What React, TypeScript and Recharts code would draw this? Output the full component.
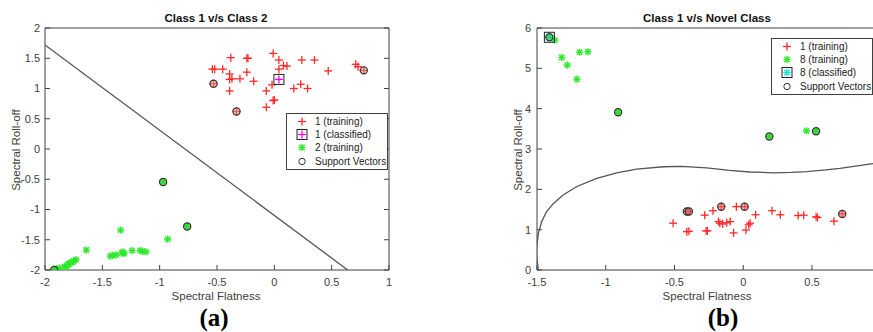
import React from "react"
import { Legend, Scatter, ScatterChart, XAxis, YAxis } from "recharts"

type Pt = { x: number; y: number }

// ---- (a) Class 1 v/s Class 2 ----
const class1TrainA: Pt[] = [
  { x: -0.54, y: 1.32 }, { x: -0.52, y: 1.32 }, { x: -0.45, y: 1.32 }, { x: -0.38, y: 1.51 },
  { x: -0.39, y: 1.24 }, { x: -0.39, y: 1.15 }, { x: -0.37, y: 1.16 }, { x: -0.3, y: 1.16 },
  { x: -0.39, y: 0.96 }, { x: -0.24, y: 1.5 }, { x: -0.23, y: 1.5 }, { x: -0.24, y: 1.27 },
  { x: -0.18, y: 1.12 }, { x: -0.01, y: 1.58 }, { x: 0.04, y: 1.47 }, { x: 0.04, y: 1.32 },
  { x: 0.08, y: 1.38 }, { x: 0.11, y: 1.37 }, { x: -0.02, y: 1.06 }, { x: -0.07, y: 0.96 },
  { x: 0.0, y: 0.81 }, { x: -0.01, y: 0.8 }, { x: -0.07, y: 0.69 }, { x: 0.24, y: 1.47 },
  { x: 0.35, y: 1.47 }, { x: 0.47, y: 1.29 }, { x: 0.71, y: 1.4 }, { x: 0.73, y: 1.36 },
  { x: 0.23, y: 1.07 }, { x: 0.17, y: 1.0 }, { x: 0.29, y: 1.0 }, { x: 0.78, y: 1.3 },
  { x: -0.53, y: 1.08 }, { x: -0.33, y: 0.62 },
]
const class1ClassifiedA: Pt[] = [{ x: 0.04, y: 1.15 }]
const class2TrainA: Pt[] = [
  { x: -0.97, y: -0.545 }, { x: -0.76, y: -1.28 }, { x: -1.92, y: -2.0 }, { x: -1.34, y: -1.34 },
  { x: -0.93, y: -1.49 }, { x: -1.64, y: -1.67 }, { x: -1.43, y: -1.77 }, { x: -1.41, y: -1.76 },
  { x: -1.38, y: -1.75 }, { x: -1.33, y: -1.72 }, { x: -1.32, y: -1.7 }, { x: -1.31, y: -1.73 },
  { x: -1.24, y: -1.68 }, { x: -1.17, y: -1.68 }, { x: -1.15, y: -1.69 }, { x: -1.12, y: -1.7 },
  { x: -1.9, y: -1.98 }, { x: -1.87, y: -1.97 }, { x: -1.83, y: -1.94 }, { x: -1.8, y: -1.91 },
  { x: -1.78, y: -1.88 }, { x: -1.76, y: -1.87 }, { x: -1.75, y: -1.85 }, { x: -1.73, y: -1.83 },
  { x: -1.81, y: -1.95 }, { x: -1.79, y: -1.9 },
]
const svRedA: Pt[] = [{ x: 0.78, y: 1.3 }, { x: -0.53, y: 1.08 }, { x: -0.33, y: 0.62 }]
const svGreenA: Pt[] = [{ x: -0.97, y: -0.545 }, { x: -0.76, y: -1.28 }, { x: -1.92, y: -2.0 }]
const boundaryA: Pt[] = [{ x: -2, y: 1.72 }, { x: 0.64, y: -2 }]
const xTicksA = [-2, -1.5, -1, -0.5, 0, 0.5, 1]
const yTicksA = [-2, -1.5, -1, -0.5, 0, 0.5, 1, 1.5, 2]

// ---- (b) Class 1 v/s Novel Class ----
const class1TrainB: Pt[] = [
  { x: -0.41, y: 1.45 }, { x: -0.395, y: 1.45 }, { x: -0.28, y: 1.36 }, { x: -0.22, y: 1.47 },
  { x: -0.16, y: 1.57 }, { x: -0.05, y: 1.57 }, { x: 0.01, y: 1.57 }, { x: 0.09, y: 1.37 },
  { x: 0.21, y: 1.47 }, { x: 0.27, y: 1.37 }, { x: 0.4, y: 1.35 }, { x: 0.44, y: 1.36 },
  { x: 0.54, y: 1.3 }, { x: 0.53, y: 1.32 }, { x: 0.66, y: 1.21 }, { x: 0.72, y: 1.39 },
  { x: -0.51, y: 1.16 }, { x: -0.41, y: 0.95 }, { x: -0.395, y: 0.96 }, { x: -0.26, y: 0.97 },
  { x: -0.27, y: 0.97 }, { x: -0.18, y: 1.2 }, { x: -0.17, y: 1.16 }, { x: -0.15, y: 1.14 },
  { x: -0.12, y: 1.17 }, { x: -0.095, y: 1.2 }, { x: -0.07, y: 0.92 }, { x: 0.02, y: 0.99 },
  { x: 0.05, y: 1.16 }, { x: 0.04, y: 1.12 },
]
const class8TrainB: Pt[] = [
  { x: -1.41, y: 5.77 }, { x: -1.37, y: 5.7 }, { x: -1.32, y: 5.27 }, { x: -1.28, y: 5.08 },
  { x: -1.21, y: 4.73 }, { x: -1.19, y: 5.4 }, { x: -1.13, y: 5.41 }, { x: -0.91, y: 3.91 },
  { x: 0.19, y: 3.31 }, { x: 0.46, y: 3.45 }, { x: 0.53, y: 3.44 },
]
const class8ClassifiedB: Pt[] = [{ x: -1.41, y: 5.77 }]
const svRedB: Pt[] = [
  { x: -0.41, y: 1.45 }, { x: -0.395, y: 1.45 }, { x: -0.16, y: 1.57 }, { x: 0.01, y: 1.57 }, { x: 0.72, y: 1.39 },
]
const svGreenB: Pt[] = [{ x: -1.41, y: 5.77 }, { x: -0.91, y: 3.91 }, { x: 0.19, y: 3.31 }, { x: 0.53, y: 3.44 }]
const boundaryB: Pt[] = [
  { x: -1.49, y: 0 }, { x: -1.502, y: 0.33 }, { x: -1.502, y: 0.58 }, { x: -1.49, y: 0.91 },
  { x: -1.466, y: 1.2 }, { x: -1.43, y: 1.45 }, { x: -1.38, y: 1.65 }, { x: -1.31, y: 1.86 },
  { x: -1.21, y: 2.07 }, { x: -1.066, y: 2.27 }, { x: -0.92, y: 2.41 }, { x: -0.775, y: 2.5 },
  { x: -0.58, y: 2.56 }, { x: -0.45, y: 2.57 }, { x: -0.266, y: 2.53 }, { x: -0.1, y: 2.47 },
  { x: 0.05, y: 2.43 }, { x: 0.219, y: 2.41 }, { x: 0.35, y: 2.42 }, { x: 0.461, y: 2.44 },
  { x: 0.6, y: 2.48 }, { x: 0.704, y: 2.52 }, { x: 0.83, y: 2.58 }, { x: 0.944, y: 2.64 },
]
const xTicksB = [-1.5, -1, -0.5, 0, 0.5]
const yTicksB = [0, 1, 2, 3, 4, 5, 6]

const RED = "#ff2a2a"
const GREEN = "#2ee82e"
const AXIS = "#404040"
const FONT = '"Liberation Sans", Arial, sans-serif'

// marker shapes
const plus = (color: string, s = 4) => (p: any) => (
  <g stroke={color} strokeWidth={1.3}>
    <line x1={p.cx - s} y1={p.cy} x2={p.cx + s} y2={p.cy} />
    <line x1={p.cx} y1={p.cy - s} x2={p.cx} y2={p.cy + s} />
  </g>
)
const star = (color: string, s = 3.6) => (p: any) => (
  <g stroke={color} strokeWidth={1.4}>
    <line x1={p.cx - s} y1={p.cy} x2={p.cx + s} y2={p.cy} />
    <line x1={p.cx} y1={p.cy - s} x2={p.cx} y2={p.cy + s} />
    <line x1={p.cx - s * 0.75} y1={p.cy - s * 0.75} x2={p.cx + s * 0.75} y2={p.cy + s * 0.75} />
    <line x1={p.cx - s * 0.75} y1={p.cy + s * 0.75} x2={p.cx + s * 0.75} y2={p.cy - s * 0.75} />
  </g>
)
const ring = (fill: string) => (p: any) => (
  <circle cx={p.cx} cy={p.cy} r={3.6} fill={fill} fillOpacity={0.55} stroke="#333" strokeWidth={1.2} />
)
const boxed = (inner: (p: any) => React.ReactElement) => (p: any) => (
  <g>
    <rect x={p.cx - 5} y={p.cy - 5} width={10} height={10} fill="none" stroke="#222" strokeWidth={1} />
    {inner(p)}
  </g>
)
const noShape = () => <g />

const tickStyle = { fill: AXIS, fontSize: 11, fontFamily: FONT }
const blank = () => ""

type Row = { label: string; marker: (p: any) => React.ReactElement }

const LegendBox = ({ rows, left, top }: { rows: Row[]; left: number; top: number }) => (
  <div
    style={{
      position: "absolute",
      left,
      top,
      width: 100,
      border: `1px solid ${AXIS}`,
      background: "#fff",
      padding: "1px 0",
      fontFamily: FONT,
      fontSize: 10,
      color: "#222",
    }}
  >
    {rows.map((r) => (
      <div key={r.label} style={{ display: "flex", alignItems: "center", height: 13.2 }}>
        <svg width={28} height={13} style={{ flex: "none" }}>
          {r.marker({ cx: 15, cy: 6.5 })}
        </svg>
        <span style={{ whiteSpace: "nowrap" }}>{r.label}</span>
      </div>
    ))}
  </div>
)

const legendRowsA: Row[] = [
  { label: "1 (training)", marker: plus(RED) },
  { label: "1 (classified)", marker: boxed(plus("#ff00ff")) },
  { label: "2 (training)", marker: star(GREEN) },
  { label: "Support Vectors", marker: (p) => <circle cx={p.cx} cy={p.cy} r={3.2} fill="none" stroke="#333" /> },
]
const legendRowsB: Row[] = [
  { label: "1 (training)", marker: plus(RED) },
  { label: "8 (training)", marker: star(GREEN) },
  { label: "8 (classified)", marker: boxed(star("#22e0e0")) },
  { label: "Support Vectors", marker: (p) => <circle cx={p.cx} cy={p.cy} r={3.2} fill="none" stroke="#333" /> },
]

const Text = ({ children, cx, cy, size = 11.5, bold = false, rotate = false, color = AXIS, serif = false }: any) => (
  <div
    style={{
      position: "absolute",
      left: cx - 100,
      top: cy - 10,
      width: 200,
      height: 20,
      lineHeight: "20px",
      textAlign: "center",
      fontSize: size,
      fontWeight: bold ? 700 : 400,
      color,
      fontFamily: serif ? '"Liberation Serif", "Times New Roman", serif' : FONT,
      transform: rotate ? "rotate(-90deg)" : undefined,
      whiteSpace: "nowrap",
    }}
  >
    {children}
  </div>
)

// axes with inward ticks on all four sides (box on)
const axesFor = (xDomain: number[], yDomain: number[], xTicks: number[], yTicks: number[], tm: number, rightAxis: boolean) => [
  <XAxis
    key="xb"
    type="number"
    dataKey="x"
    domain={xDomain}
    ticks={xTicks}
    interval={0}
    allowDataOverflow
    height={1}
    tickSize={-5}
    tickMargin={13}
    stroke={AXIS}
    tick={tickStyle}
  />,
  <XAxis
    key="xt"
    xAxisId="top"
    orientation="top"
    type="number"
    domain={xDomain}
    ticks={xTicks}
    interval={0}
    allowDataOverflow
    height={1}
    tickSize={-5}
    stroke={AXIS}
    tickFormatter={blank}
  />,
  <YAxis
    key="yl"
    type="number"
    dataKey="y"
    domain={yDomain}
    ticks={yTicks}
    interval={0}
    allowDataOverflow
    width={1}
    tickSize={-5}
    tickMargin={tm}
    stroke={AXIS}
    tick={tickStyle}
  />,
  rightAxis ? (
    <YAxis
      key="yr"
      yAxisId="right"
      orientation="right"
      type="number"
      domain={yDomain}
      ticks={yTicks}
      interval={0}
      allowDataOverflow
      width={1}
      tickSize={-5}
      stroke={AXIS}
      tickFormatter={blank}
    />
  ) : null,
]

export default function App() {
  return (
    <div
      style={{
        position: "absolute",
        left: 0,
        top: 0,
        width: 873,
        height: 332,
        background: "#fff",
        overflow: "hidden",
      }}
    >
      {/* (a) */}
      <div style={{ position: "absolute", left: 0, top: 0 }}>
        <ScatterChart width={440} height={332} margin={{ top: 27, right: 50, bottom: 61, left: 44 }}>
          {axesFor([-2, 1], [-2, 2], xTicksA, yTicksA, 10, true)}
          <Scatter data={boundaryA} shape={noShape} line={{ stroke: "#555", strokeWidth: 1.3 }} isAnimationActive={false} />
          <Scatter data={class1TrainA} shape={plus(RED)} isAnimationActive={false} />
          <Scatter data={class1ClassifiedA} shape={boxed(plus("#ff00ff"))} isAnimationActive={false} />
          <Scatter data={class2TrainA} shape={star(GREEN)} isAnimationActive={false} />
          <Scatter data={svRedA} shape={ring("#e88")} isAnimationActive={false} />
          <Scatter data={svGreenA} shape={ring("#3c3")} isAnimationActive={false} />
          <Legend
            layout="vertical"
            align="center"
            verticalAlign="middle"
            wrapperStyle={{ position: "absolute", left: 0, top: 0, width: 0, height: 0 }}
            content={() => <LegendBox rows={legendRowsA} left={286} top={113} />}
          />
        </ScatterChart>
      </div>

      {/* (b) */}
      <div style={{ position: "absolute", left: 440, top: 0 }}>
        <ScatterChart width={433} height={332} margin={{ top: 27, right: 0, bottom: 61, left: 96 }}>
          {axesFor([-1.5, 0.944], [0, 6], xTicksB, yTicksB, 11, false)}
          <Scatter data={boundaryB} shape={noShape} line={{ stroke: "#555", strokeWidth: 1.3 }} isAnimationActive={false} />
          <Scatter data={class1TrainB} shape={plus(RED)} isAnimationActive={false} />
          <Scatter data={class8TrainB} shape={star(GREEN)} isAnimationActive={false} />
          <Scatter data={class8ClassifiedB} shape={boxed(star("#22e0e0"))} isAnimationActive={false} />
          <Scatter data={svRedB} shape={ring("#e66")} isAnimationActive={false} />
          <Scatter data={svGreenB} shape={ring("#3c3")} isAnimationActive={false} />
          <Legend
            layout="vertical"
            align="center"
            verticalAlign="middle"
            wrapperStyle={{ position: "absolute", left: 0, top: 0, width: 0, height: 0 }}
            content={() => <LegendBox rows={legendRowsB} left={331} top={38} />}
          />
        </ScatterChart>
      </div>

      <Text cx={216} cy={18} bold color="#111">Class 1 v/s Class 2</Text>
      <Text cx={707} cy={18} bold color="#111">Class 1 v/s Novel Class</Text>
      <Text cx={216} cy={296}>Spectral Flatness</Text>
      <Text cx={707} cy={296}>Spectral Flatness</Text>
      <Text cx={16} cy={150} rotate>Spectral Roll-off</Text>
      <Text cx={518} cy={150} rotate>Spectral Roll-off</Text>
      <Text cx={214} cy={318} size={25} bold serif color="#000">(a)</Text>
      <Text cx={723} cy={318} size={25} bold serif color="#000">(b)</Text>
    </div>
  )
}
